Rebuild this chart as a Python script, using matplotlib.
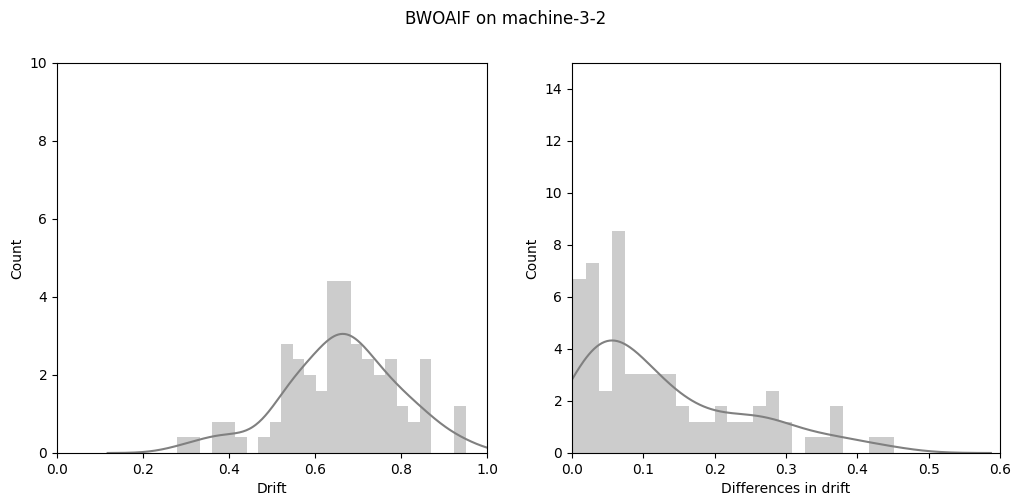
import numpy as np
import matplotlib
matplotlib.use("Agg")
import matplotlib.pyplot as plt

# ---- data ----
title = "BWOAIF on machine-3-2"

# left panel: Drift histogram (25 bins)
drift_lo, drift_hi, drift_nbins = 0.280, 0.951, 25
drift_heights = [0.4, 0.4, 0.0, 0.8, 0.8, 0.4, 0.0, 0.4, 0.8, 2.8,
                 2.4, 2.0, 1.6, 4.4, 4.4, 2.8, 2.4, 2.0, 2.4, 1.2,
                 0.8, 2.4, 0.0, 0.0, 1.2]
drift_unit = 0.4

# right panel: Differences in drift histogram (25 bins)
diff_lo, diff_hi, diff_nbins = 0.0019, 0.452, 25
diff_heights = [6.7, 7.3, 2.4, 8.55, 3.05, 3.05, 3.05, 3.05, 1.8, 1.2,
                1.2, 1.8, 1.2, 1.2, 1.8, 2.4, 1.2, 0.0, 0.6, 0.6,
                1.8, 0.0, 0.0, 0.6, 0.6]
diff_unit = 0.607

left_xticks = [0.0, 0.2, 0.4, 0.6, 0.8, 1.0]
left_yticks = [0, 2, 4, 6, 8, 10]
right_xticks = [0.0, 0.1, 0.2, 0.3, 0.4, 0.5, 0.6]
right_yticks = [0, 2, 4, 6, 8, 10, 12, 14]

BAR_COLOR = "#cccccc"
LINE_COLOR = "#808080"


def kde_curve(edges, heights, unit, cut=3):
    centers = 0.5 * (edges[:-1] + edges[1:])
    counts = np.round(np.asarray(heights) / unit)
    n = counts.sum()
    mean = np.sum(counts * centers) / n
    std = np.sqrt(np.sum(counts * (centers - mean) ** 2) / (n - 1))
    bw = std * n ** (-1 / 5)
    xs = np.linspace(edges[0] - cut * bw, edges[-1] + cut * bw, 400)
    dens = np.zeros_like(xs)
    for c, w in zip(centers, counts):
        dens += w * np.exp(-0.5 * ((xs - c) / bw) ** 2)
    dens /= n * bw * np.sqrt(2 * np.pi)
    width = edges[1] - edges[0]
    area = np.sum(heights) * width
    return xs, dens * area


def draw(ax, lo, hi, nb, heights, unit):
    edges = np.linspace(lo, hi, nb + 1)
    ax.bar(edges[:-1], heights, width=np.diff(edges), align="edge",
           color=BAR_COLOR, edgecolor="none", linewidth=0)
    xs, ys = kde_curve(edges, heights, unit)
    ax.plot(xs, ys, color=LINE_COLOR, linewidth=1.5)


fig = plt.figure(figsize=(10.12, 4.97), dpi=100)
ax1 = fig.add_axes([57 / 1012, 44 / 497, 430 / 1012, 390 / 497])
ax2 = fig.add_axes([572 / 1012, 44 / 497, 428 / 1012, 390 / 497])

draw(ax1, drift_lo, drift_hi, drift_nbins, drift_heights, drift_unit)
ax1.set_xlim(0, 1.0)
ax1.set_ylim(0, 10)
ax1.set_xticks(left_xticks)
ax1.set_yticks(left_yticks)
ax1.set_xlabel("Drift")
ax1.set_ylabel("Count")

draw(ax2, diff_lo, diff_hi, diff_nbins, diff_heights, diff_unit)
ax2.set_xlim(0, 0.6)
ax2.set_ylim(0, 15)
ax2.set_xticks(right_xticks)
ax2.set_yticks(right_yticks)
ax2.set_xlabel("Differences in drift")
ax2.set_ylabel("Count")

fig.suptitle(title, fontsize=12)
fig.savefig("out.png", dpi=100)
